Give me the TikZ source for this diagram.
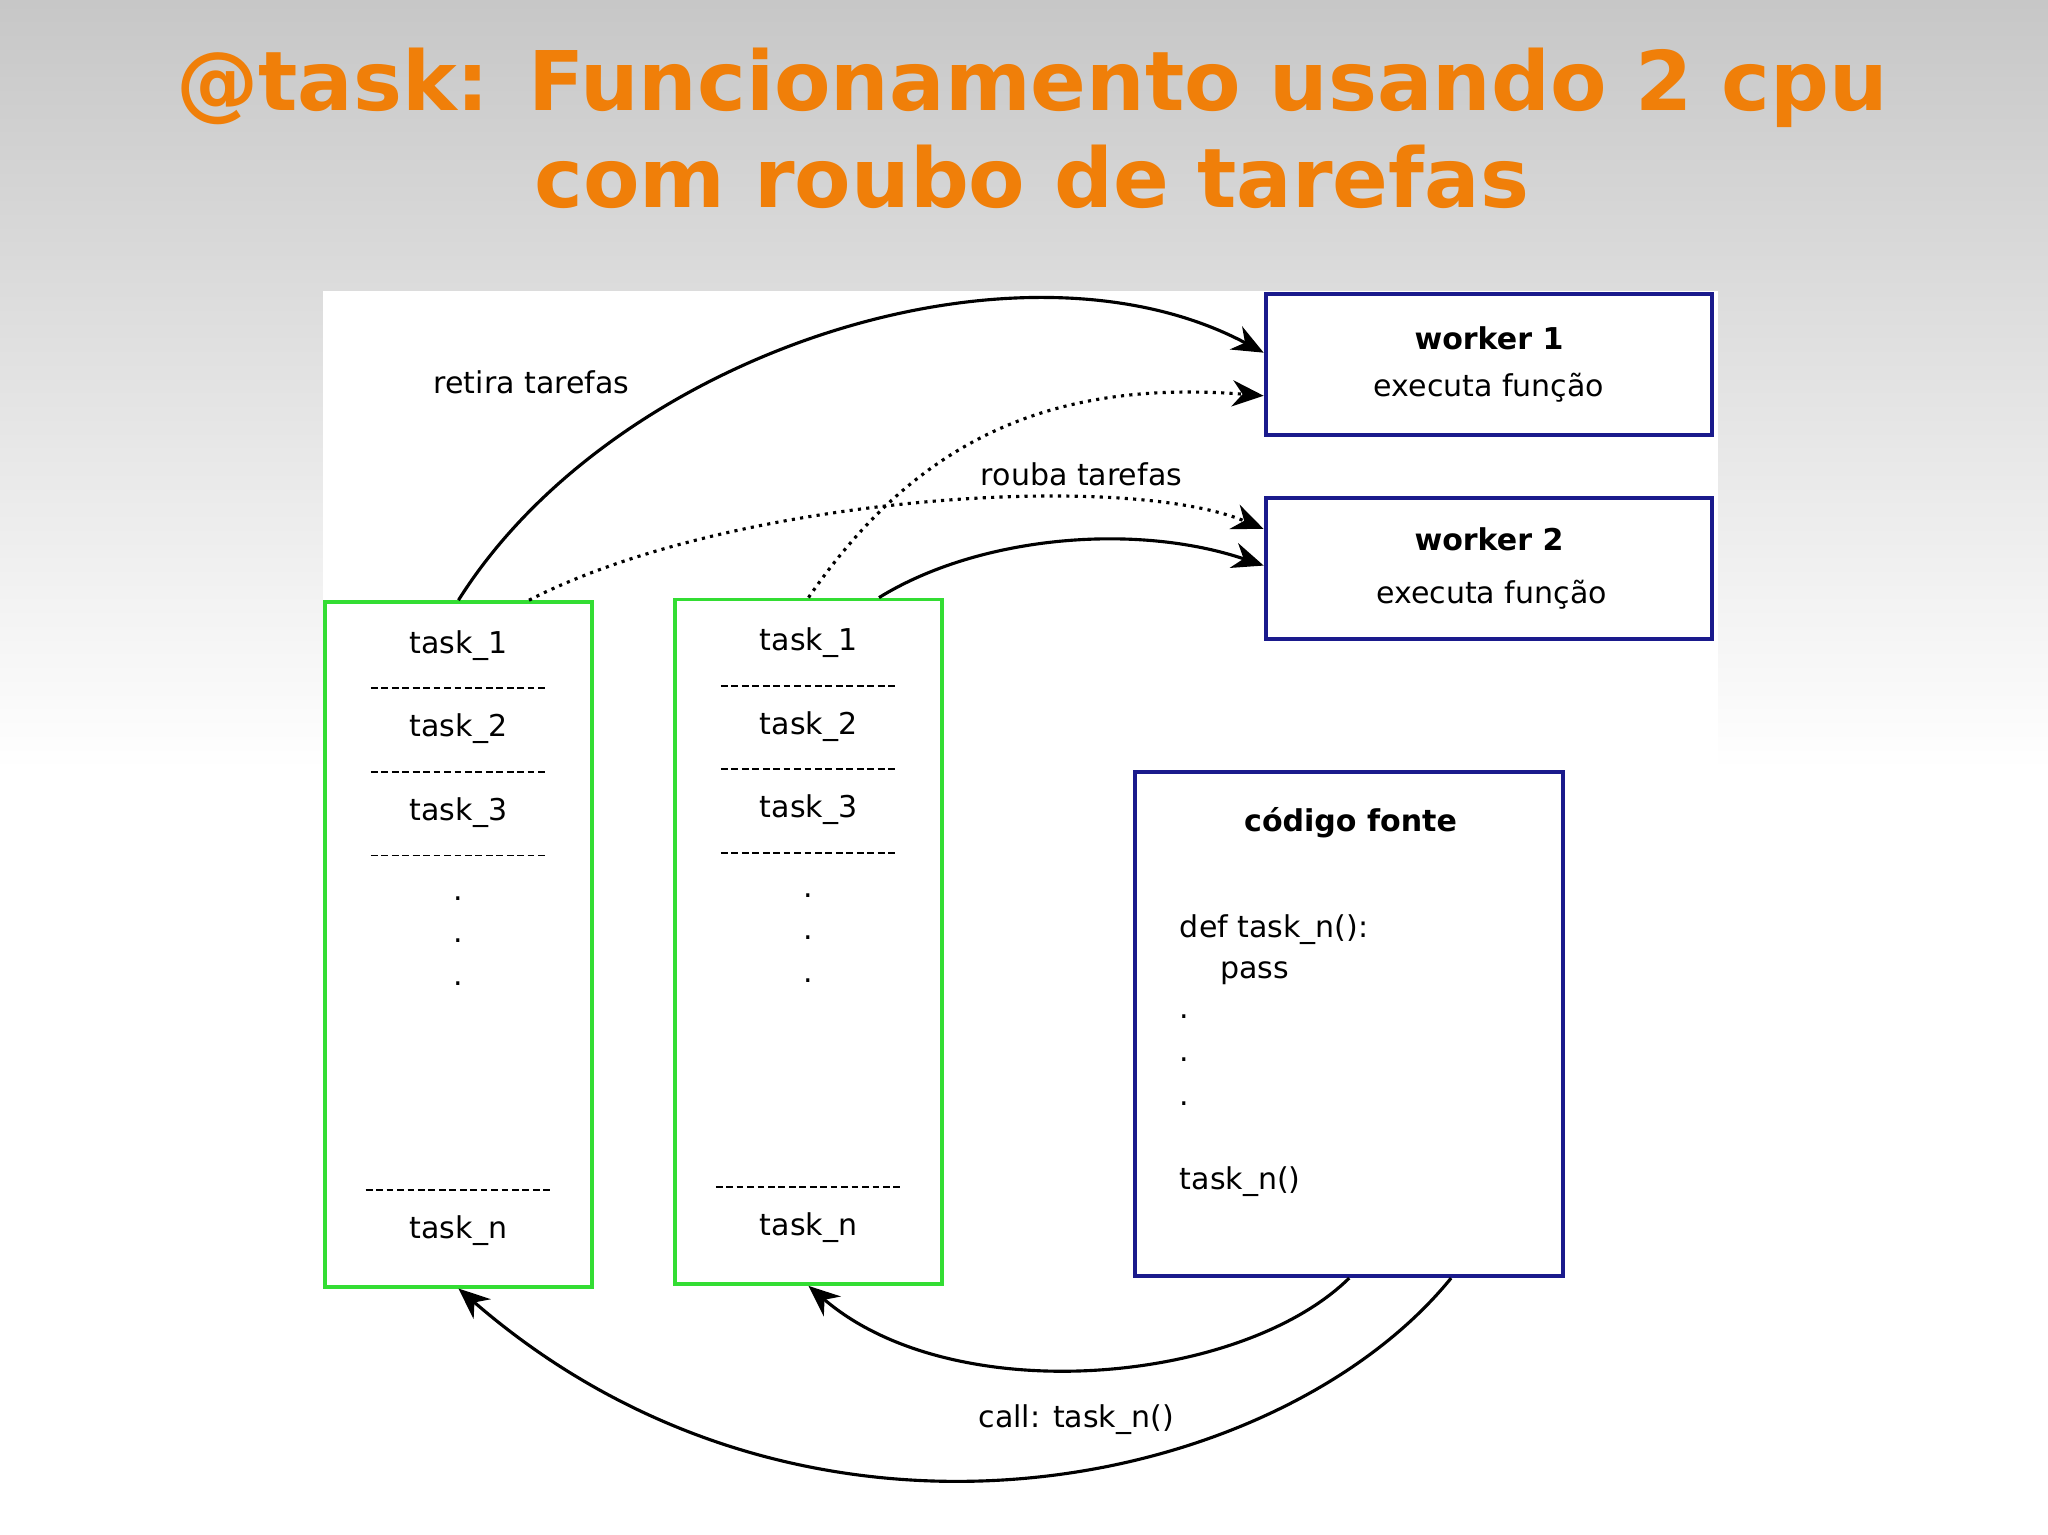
\documentclass[tikz,border=0pt]{standalone}
\usepackage{fontspec}
\setmainfont{DejaVu Sans}
\usetikzlibrary{arrows.meta}
\definecolor{ttl}{HTML}{F07F09}
\definecolor{wblue}{HTML}{1A1A8C}
\definecolor{sgreen}{HTML}{33DD33}
\begin{document}
\begin{tikzpicture}[x=0.5pt,y=-0.5pt,
  wbox/.style={draw=wblue,line width=1.5pt,fill=white,minimum width=171pt,minimum height=54pt,inner sep=0pt},
  stack/.style={draw=sgreen,line width=1.5pt,fill=white,minimum width=102pt,minimum height=262pt,inner sep=0pt},
  lbl/.style={font=\fontsize{11.5}{13}\selectfont,inner sep=1pt},
  sep/.style={line width=0.7pt,dash pattern=on 2.6pt off 1.4pt},
  arr/.style={line width=1.2pt,-{Stealth[length=12pt,width=10pt]}},
  darr/.style={line width=1.2pt,dotted,-{Stealth[length=12pt,width=10pt]}}]
\useasboundingbox (0,0) rectangle (1568,1175);
\shade[top color=black!22,bottom color=white] (0,0) rectangle (1568,590);
\fill[white] (0,590) rectangle (1568,1175);
\fill[white] (247,223) rectangle (1315,1150);
\node[font=\bfseries\fontsize{31.5}{37}\selectfont,text=ttl,align=center] (title) at (790,98) {@task: Funcionamento usando 2 cpu\\com roubo de tarefas};
% workers
\node[wbox] (w1) at (1140,279) {};
\node[lbl,font=\bfseries\fontsize{11.5}{13}\selectfont] (w1t) at (1140,259) {worker 1};
\node[lbl] (w1s) at (1140,297) {executa função};
\node[wbox] (w2) at (1140,435) {};
\node[lbl,font=\bfseries\fontsize{11.5}{13}\selectfont] (w2t) at (1140,413) {worker 2};
\node[lbl] (w2s) at (1142,455) {executa função};
% code box
\node[draw=wblue,line width=1.5pt,minimum width=164pt,minimum height=193pt,inner sep=0pt] (code) at (1033,784) {};
\node[lbl,font=\bfseries\fontsize{11.5}{13}\selectfont] (ct) at (1034,630) {código fonte};
\node[lbl,anchor=west] (c1) at (901,712) {def task\_n():};
\node[lbl,anchor=west] (c2) at (932,745) {pass};
\node[lbl] (c3) at (907,778) {.};
\node[lbl] (c4) at (907,811) {.};
\node[lbl] (c5) at (907,845) {.};
\node[lbl,anchor=west] (c6) at (901,905) {task\_n()};
% stacks
\foreach \n/\cx/\cy/\off in {s1/351/723/0, s2/619/721/-2}{
  \node[stack] (\n) at (\cx,\cy) {};
  \node[lbl] (\n a) at (\cx,494+\off) {task\_1};
  \node[lbl] (\n b) at (\cx,558+\off) {task\_2};
  \node[lbl] (\n c) at (\cx,622+\off) {task\_3};
  \node[lbl] (\n d) at (\cx,688+\off) {.};
  \node[lbl] (\n e) at (\cx,720+\off) {.};
  \node[lbl] (\n f) at (\cx,753+\off) {.};
  \node[lbl] (\n g) at (\cx,942+\off) {task\_n};
  \draw[sep] (\cx-67,527+\off) -- (\cx+67,527+\off);
  \draw[sep] (\cx-67,591+\off) -- (\cx+67,591+\off);
  \draw[sep] (\cx-67,655+\off) -- (\cx+67,655+\off);
  \draw[sep] (\cx-71,911+\off) -- (\cx+71,911+\off);
}
% labels
\node[lbl] (l1) at (407,293) {retira tarefas};
\node[lbl] (l2) at (828,363) {rouba tarefas};
\node[lbl] (l3) at (824,1087) {call: task\_n()};
% arrows
\draw[arr] (s1.north) .. controls (470,270) and (780,170) .. ([yshift=4.5pt]w1.west);
\draw[darr] ([xshift=27pt]s1.north) .. controls (560,380) and (860,360) .. ([yshift=15pt]w2.west);
\draw[darr] (s2.north) .. controls (700,340) and (800,290) .. ([yshift=-12pt]w1.west);
\draw[arr] ([xshift=27pt]s2.north) .. controls (750,410) and (870,400) .. ([yshift=1pt]w2.west);
\draw[arr] (code.south) .. controls (950,1060) and (730,1080) .. (s2.south);
\draw[arr] ([xshift=39pt]code.south) .. controls (980,1140) and (620,1220) .. (s1.south);
\end{tikzpicture}
\end{document}
